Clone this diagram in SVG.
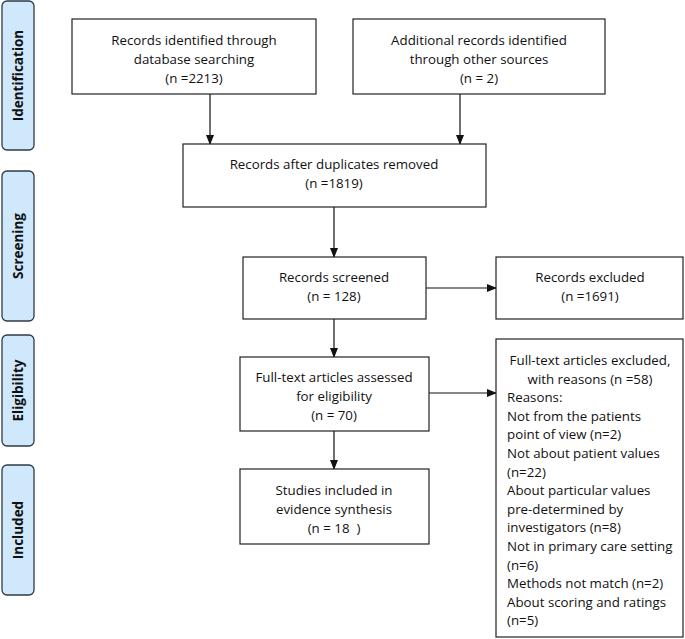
<svg xmlns="http://www.w3.org/2000/svg" width="685" height="639" viewBox="0 0 685 639">
<style>
.ph{fill:#cfe8fb;stroke:#2f3a45;stroke-width:1.3}
.pt{font-family:"Open Sans","Liberation Sans",sans-serif;font-weight:bold;font-size:13.5px;fill:#111;text-anchor:middle}
.bx{fill:#fff;stroke:#222;stroke-width:1.2}
.t{font-family:"Open Sans","Liberation Sans",sans-serif;font-size:13.3px;fill:#111;text-anchor:middle}
.tl{font-family:"Open Sans","Liberation Sans",sans-serif;font-size:13.3px;fill:#111}
.c{stroke:#111;stroke-width:1.2;fill:none;marker-end:url(#ah)}
</style>
<defs><marker id="ah" markerWidth="10" markerHeight="8" refX="9" refY="4" orient="auto" markerUnits="userSpaceOnUse"><path d="M0,0 L10,4 L0,8 Z" fill="#111"/></marker></defs>
<g id="phase-identification"><rect class="ph" x="2" y="1" width="32" height="149" rx="5"/><text class="pt" transform="translate(23,75.5) rotate(-90)">Identification</text></g>
<g id="phase-screening"><rect class="ph" x="2" y="171" width="32" height="150" rx="5"/><text class="pt" transform="translate(23,246) rotate(-90)">Screening</text></g>
<g id="phase-eligibility"><rect class="ph" x="2" y="335" width="32" height="111" rx="5"/><text class="pt" transform="translate(23,390.5) rotate(-90)">Eligibility</text></g>
<g id="phase-included"><rect class="ph" x="2" y="465" width="32" height="130" rx="5"/><text class="pt" transform="translate(23,530) rotate(-90)">Included</text></g>
<g id="connectors">
<path class="c" d="M210,94 V144"/>
<path class="c" d="M460,94 V144"/>
<path class="c" d="M334,207 V257"/>
<path class="c" d="M426,288 H496"/>
<path class="c" d="M334,319 V357"/>
<path class="c" d="M429,393 H496"/>
<path class="c" d="M334,431 V469"/>
</g>
<g id="n-db"><rect class="bx" x="72" y="19" width="244" height="75"/><text class="t" x="194" y="45">Records identified through</text><text class="t" x="194" y="64">database searching</text><text class="t" x="194" y="83">(n =2213)</text></g>
<g id="n-other"><rect class="bx" x="353" y="19" width="252" height="75"/><text class="t" x="479" y="45">Additional records identified</text><text class="t" x="479" y="64">through other sources</text><text class="t" x="479" y="83">(n = 2)</text></g>
<g id="n-dup"><rect class="bx" x="183" y="144" width="303" height="63"/><text class="t" x="334" y="169">Records after duplicates removed</text><text class="t" x="334" y="188">(n =1819)</text></g>
<g id="n-screened"><rect class="bx" x="243" y="257" width="183" height="62"/><text class="t" x="334" y="282">Records screened</text><text class="t" x="334" y="301">(n = 128)</text></g>
<g id="n-excl"><rect class="bx" x="496" y="257" width="187" height="62"/><text class="t" x="590" y="282">Records excluded</text><text class="t" x="590" y="301">(n =1691)</text></g>
<g id="n-full"><rect class="bx" x="240" y="357" width="189" height="74"/><text class="t" x="334" y="382">Full-text articles assessed</text><text class="t" x="334" y="401">for eligibility</text><text class="t" x="334" y="420">(n = 70)</text></g>
<g id="n-fullexcl"><rect class="bx" x="496" y="339" width="187" height="298"/>
<text class="t" x="590" y="365">Full-text articles excluded,</text>
<text class="t" x="590" y="383.6">with reasons (n =58)</text>
<text class="tl" x="507" y="402.2">Reasons:</text>
<text class="tl" x="507" y="420.8">Not from the patients</text>
<text class="tl" x="507" y="439.4">point of view (n=2)</text>
<text class="tl" x="507" y="458">Not about patient values</text>
<text class="tl" x="507" y="476.6">(n=22)</text>
<text class="tl" x="507" y="495.2">About particular values</text>
<text class="tl" x="507" y="513.8">pre-determined by</text>
<text class="tl" x="507" y="532.4">investigators (n=8)</text>
<text class="tl" x="507" y="551">Not in primary care setting</text>
<text class="tl" x="507" y="569.6">(n=6)</text>
<text class="tl" x="507" y="588.2">Methods not match (n=2)</text>
<text class="tl" x="507" y="606.8">About scoring and ratings</text>
<text class="tl" x="507" y="625.4">(n=5)</text></g>
<g id="n-incl"><rect class="bx" x="240" y="469" width="189" height="75"/><text class="t" x="334" y="495">Studies included in</text><text class="t" x="334" y="514">evidence synthesis</text><text class="t" x="334" y="533" xml:space="preserve">(n = 18  )</text></g>
</svg>
